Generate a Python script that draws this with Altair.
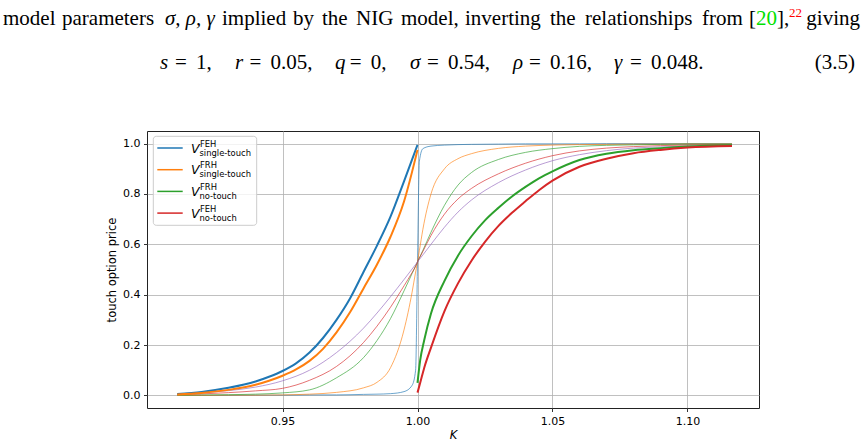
import altair as alt
import pandas as pd

# ---- strike grids -------------------------------------------------------
K_SINGLE = [0.911, 0.92, 0.93, 0.94, 0.945, 0.95, 0.955, 0.96, 0.965, 0.97,
            0.975, 0.98, 0.985, 0.99, 0.995, 1.0]
K_NOTOUCH = [1.0, 1.001, 1.0025, 1.005, 1.01, 1.015, 1.02, 1.025, 1.03, 1.035,
             1.04, 1.045, 1.05, 1.06, 1.07, 1.08, 1.09, 1.10, 1.1165]
K_GRID = [0.911, 0.92, 0.93, 0.94, 0.95, 0.96, 0.97, 0.98, 0.985, 0.99, 0.995,
          0.998, 0.9993, 1.0, 1.0007, 1.002, 1.005, 1.01, 1.015, 1.02, 1.03,
          1.04, 1.05, 1.06, 1.07, 1.08, 1.09, 1.10, 1.1165]

# ---- touch option prices (thick curves) --------------------------------
V_FEH_SINGLE = [0.006, 0.014, 0.030, 0.055, 0.074, 0.097, 0.127, 0.170, 0.228,
                0.300, 0.385, 0.490, 0.595, 0.710, 0.850, 0.995]
V_FRH_SINGLE = [0.004, 0.010, 0.022, 0.042, 0.058, 0.078, 0.103, 0.137, 0.185,
                0.250, 0.330, 0.425, 0.520, 0.630, 0.770, 0.975]
V_FRH_NOTOUCH = [0.050, 0.140, 0.220, 0.325, 0.455, 0.555, 0.632, 0.695, 0.745,
                 0.790, 0.828, 0.862, 0.890, 0.935, 0.960, 0.974, 0.982, 0.988,
                 0.993]
V_FEH_NOTOUCH = [0.011, 0.050, 0.110, 0.190, 0.335, 0.445, 0.535, 0.610, 0.673,
                 0.725, 0.771, 0.815, 0.853, 0.908, 0.940, 0.962, 0.975, 0.984,
                 0.990]

# ---- digital prices (thin curves) ---------------------------------------
THIN_BLUE = [0.0, 0.0, 0.0, 0.001, 0.001, 0.002, 0.002, 0.004, 0.005, 0.007,
             0.015, 0.040, 0.100, 0.530, 0.930, 0.980, 0.990, 0.994, 0.996,
             0.997, 0.998, 0.999, 0.999, 0.999, 1.0, 1.0, 1.0, 1.0, 1.0]
THIN_ORANGE = [0.0, 0.0, 0.001, 0.001, 0.002, 0.005, 0.012, 0.030, 0.052, 0.110,
               0.260, 0.410, 0.490, 0.530, 0.575, 0.660, 0.800, 0.900, 0.940,
               0.960, 0.981, 0.990, 0.994, 0.996, 0.997, 0.998, 0.998, 0.999,
               0.999]
THIN_GREEN = [0.001, 0.002, 0.003, 0.005, 0.010, 0.022, 0.070, 0.150, 0.218,
              0.305, 0.415, 0.484, 0.514, 0.530, 0.546, 0.576, 0.648, 0.755,
              0.835, 0.885, 0.937, 0.965, 0.980, 0.989, 0.993, 0.995, 0.997,
              0.998, 0.998]
THIN_RED = [0.003, 0.006, 0.011, 0.018, 0.028, 0.060, 0.115, 0.210, 0.275,
            0.350, 0.435, 0.488, 0.513, 0.530, 0.545, 0.572, 0.635, 0.720,
            0.780, 0.822, 0.880, 0.922, 0.952, 0.971, 0.982, 0.988, 0.992,
            0.994, 0.996]
THIN_PURPLE = [0.006, 0.011, 0.019, 0.033, 0.058, 0.100, 0.170, 0.267, 0.327,
               0.392, 0.460, 0.502, 0.520, 0.530, 0.540, 0.558, 0.600, 0.668,
               0.728, 0.776, 0.845, 0.895, 0.932, 0.956, 0.972, 0.982, 0.987,
               0.990, 0.993]

X_TICKS = [0.95, 1.00, 1.05, 1.10]
Y_TICKS = [0.0, 0.2, 0.4, 0.6, 0.8, 1.0]

BLUE, ORANGE, GREEN, RED, PURPLE = "#1f77b4", "#ff7f0e", "#2ca02c", "#d62728", "#9467bd"

LEGEND_ROWS = [("FEH", "single-touch", BLUE),
               ("FRH", "single-touch", ORANGE),
               ("FRH", "no-touch", GREEN),
               ("FEH", "no-touch", RED)]

# ---- long tables ---------------------------------------------------------
thin_series = [("d0", THIN_BLUE, BLUE), ("d1", THIN_ORANGE, ORANGE),
               ("d2", THIN_GREEN, GREEN), ("d3", THIN_RED, RED),
               ("d4", THIN_PURPLE, PURPLE)]
thin_df = pd.concat([pd.DataFrame({"K": K_GRID, "price": vals, "curve": name})
                     for name, vals, _ in thin_series])

thick_series = [("feh_single", K_SINGLE, V_FEH_SINGLE, BLUE),
                ("frh_single", K_SINGLE, V_FRH_SINGLE, ORANGE),
                ("frh_notouch", K_NOTOUCH, V_FRH_NOTOUCH, GREEN),
                ("feh_notouch", K_NOTOUCH, V_FEH_NOTOUCH, RED)]
thick_df = pd.concat([pd.DataFrame({"K": ks, "price": vals, "curve": name})
                      for name, ks, vals, _ in thick_series])

x_scale = alt.Scale(domain=[0.8998, 1.1265], nice=False, zero=False)
y_scale = alt.Scale(domain=[-0.05, 1.05], nice=False, zero=False)

axis_common = dict(labelFont="DejaVu Sans", labelFontSize=11, labelColor="black",
                   tickColor="black", tickSize=3.5, tickWidth=0.8, domain=False,
                   gridColor="#b0b0b0", gridWidth=0.8, labelPadding=3.5,
                   titleFont="DejaVu Sans", titleFontSize=11.5,
                   titleFontWeight="normal", titleColor="black")

x_enc = alt.X("K:Q", scale=x_scale,
              axis=alt.Axis(values=X_TICKS, format=".2f", title="K",
                            titleFontStyle="italic", titlePadding=3, **axis_common))
y_enc = alt.Y("price:Q", scale=y_scale,
              axis=alt.Axis(values=Y_TICKS, format=".1f", title="touch option price",
                            titlePadding=5, **axis_common))

thin = alt.Chart(thin_df).mark_line(strokeWidth=1, opacity=0.65,
                                    interpolate="monotone").encode(
    x=x_enc, y=y_enc,
    color=alt.Color("curve:N", legend=None,
                    scale=alt.Scale(domain=[s[0] for s in thin_series],
                                    range=[s[2] for s in thin_series])))

thick = alt.Chart(thick_df).mark_line(strokeWidth=2,
                                      interpolate="monotone").encode(
    x="K:Q", y="price:Q",
    color=alt.Color("curve:N", legend=None,
                    scale=alt.Scale(domain=[s[0] for s in thick_series],
                                    range=[s[3] for s in thick_series])))

one = pd.DataFrame({"a": [0]})


def label(text, x, y, size, color="black", font="DejaVu Sans", style="normal",
          align="left"):
    return alt.Chart(one).mark_text(text=text, font=font, fontSize=size,
                                    fontStyle=style, color=color, align=align,
                                    baseline="alphabetic").encode(
        x=alt.value(x), y=alt.value(y))


# ---- legend box with math-style labels ----------------------------------
legend_layers = [alt.Chart(one).mark_rect(cornerRadius=3, fill="white",
                                          fillOpacity=0.8, stroke="#cccccc",
                                          strokeWidth=1).encode(
    x=alt.value(6.3), x2=alt.value(109.7), y=alt.value(5.3), y2=alt.value(94.3))]
for i, (sup, sub, col) in enumerate(LEGEND_ROWS):
    ry = 17 + i * 21.7
    legend_layers.append(alt.Chart(one).mark_rule(color=col, strokeWidth=1.5).encode(
        x=alt.value(10.3), x2=alt.value(35.7), y=alt.value(ry)))
    legend_layers.append(label("V", 44, ry + 4.5, 12.5, style="italic"))
    legend_layers.append(label(sup, 53, ry - 1.5, 8.4))
    legend_layers.append(label(sub, 52.5, ry + 7.5, 8.4))

# ---- running text above the figure ---------------------------------------
OX, OY = 147, 131
SERIF = "Liberation Serif"
TS = 21
LINE1 = 25 - OY
words = [("model", 3), ("parameters", 62), ("implied", 222), ("by", 293),
         ("the", 322), ("NIG", 356), ("model,", 401), ("inverting", 465),
         ("the", 550), ("relationships", 585), ("from", 702)]
text_layers = [label(w, px - OX, LINE1, TS, font=SERIF) for w, px in words]
text_layers += [
    label("σ, ρ, γ", 165 - OX, LINE1, TS, font=SERIF, style="italic"),
    label("[", 749 - OX, LINE1, TS, font=SERIF),
    label("20", 756 - OX, LINE1, TS, font=SERIF, color="#00e000"),
    label("],", 777 - OX, LINE1, TS, font=SERIF),
    label("22", 789 - OX, 17 - OY, 13, font=SERIF, color="#ff0000"),
    label("giving", 860 - OX, LINE1, TS, font=SERIF, align="right"),
]
EQ_Y = 69 - OY
# (variable, value, left edge of the term, width of the variable)
eq_terms = [("s", "1,", 160, 9.4), ("r", "0.05,", 235, 9.0),
            ("q", "0,", 335, 9.2), ("σ", "0.54,", 410, 11.4),
            ("ρ", "0.16,", 513, 10.3), ("γ", "0.048.", 614, 10.4)]
for var, val, px, vw in eq_terms:
    eq_x = px + vw + 5.6
    text_layers.append(label(var, px - OX, EQ_Y, TS, font=SERIF, style="italic"))
    text_layers.append(label("=", eq_x - OX, EQ_Y, TS, font=SERIF))
    text_layers.append(label(val, eq_x + 21 - OX, EQ_Y, TS, font=SERIF))
text_layers.append(label("(3.5)", 855 - OX, EQ_Y, TS, font=SERIF, align="right"))

chart = alt.layer(thin, thick, *legend_layers, *text_layers).resolve_scale(
    color="independent"
).properties(
    width=612, height=277,
    padding={"left": OX, "top": OY, "right": 104, "bottom": 40},
    autosize=alt.AutoSizeParams(type="none"),
    background="white",
).configure_view(stroke="#222222", strokeWidth=1)

chart.save("out.html", embed_options={"renderer": "svg", "actions": False})
